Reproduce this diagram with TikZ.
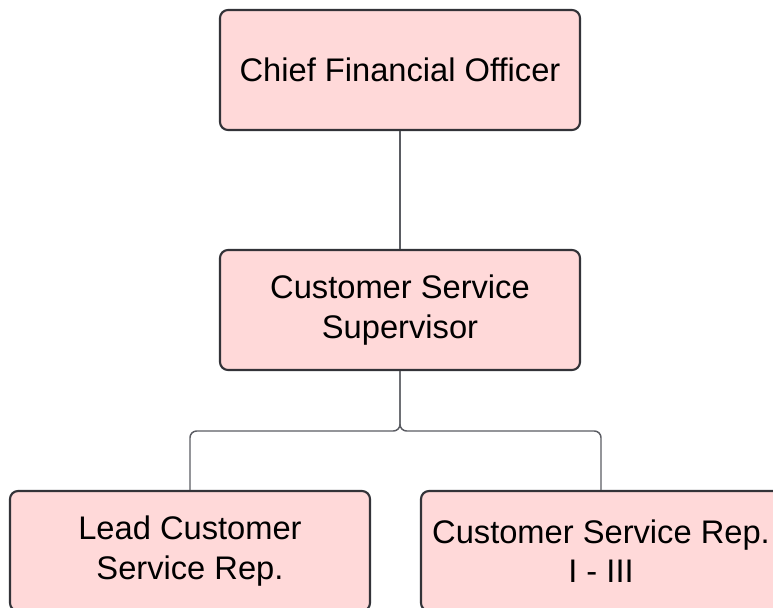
\documentclass[tikz,border=0pt]{standalone}
\usepackage{fontspec}
\setmainfont{Liberation Sans}
\definecolor{boxpink}{RGB}{255,217,217}
\definecolor{boxline}{RGB}{51,51,56}
\definecolor{linegray}{RGB}{90,92,98}
\usetikzlibrary{positioning}
\begin{document}
\begin{tikzpicture}[x=0.75pt,y=-0.75pt,
    rolebox/.style={draw=boxline,fill=boxpink,line width=1.6pt,rounded corners=6pt,
      minimum width=270pt,minimum height=90pt,align=center,
      font=\fontsize{24.5}{29.5}\selectfont},
    conn/.style={draw=linegray,line width=1.1pt,rounded corners=5pt}]
  \clip (0,0) rectangle (773,607);
  \node[rolebox] (cfo) at (400,70) {Chief Financial Officer};
  \node[rolebox] (sup) at (400,310) {Customer Service\\Supervisor};
  \node[rolebox] (lead) at (190,551) {Lead Customer\\Service Rep.};
  \node[rolebox] (rep) at (601,551) {Customer Service Rep.\\I - III};
  \coordinate (fork) at (400,431);
  \draw[conn] (cfo.south)--(sup.south |- sup.north);
  \draw[conn] (sup.south)--(fork)--(fork -| lead.north)--(lead.north);
  \draw[conn] (sup.south)--(fork)--(fork -| rep.north)--(rep.north);
\end{tikzpicture}
\end{document}
